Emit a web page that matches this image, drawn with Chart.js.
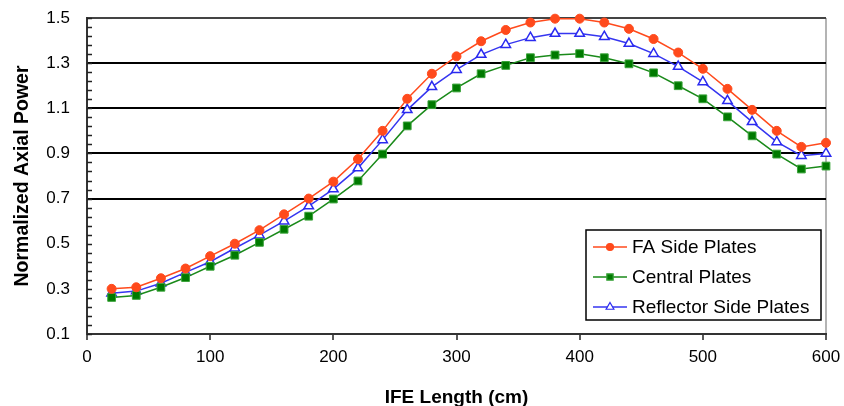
<!DOCTYPE html>
<html lang="en">
<head>
    <meta charset="UTF-8">
    <title>Normalized Axial Power</title>
    <script src="https://cdn.jsdelivr.net/npm/chart.js"></script>
    <style>
        body { margin: 0; background: #fff; }
        #wrap { width: 844px; height: 406px; }
    </style>
</head>
<body>
    <div id="wrap">
        <canvas id="axialChart" width="844" height="406"></canvas>
    </div>

    <script>
        // IFE length positions (cm)
        const ifeLength = [20, 40, 60, 80, 100, 120, 140, 160, 180, 200,
                           220, 240, 260, 280, 300, 320, 340, 360, 380, 400,
                           420, 440, 460, 480, 500, 520, 540, 560, 580, 600];

        const faSidePlates = [0.300, 0.307, 0.347, 0.390, 0.445, 0.500, 0.560, 0.630, 0.700, 0.775,
                              0.875, 1.000, 1.142, 1.253, 1.330, 1.397, 1.447, 1.480, 1.497, 1.497,
                              1.480, 1.452, 1.407, 1.347, 1.275, 1.186, 1.093, 1.000, 0.929, 0.947];

        const centralPlates = [0.262, 0.271, 0.307, 0.350, 0.400, 0.449, 0.506, 0.564, 0.622, 0.698,
                               0.778, 0.897, 1.022, 1.116, 1.190, 1.253, 1.290, 1.324, 1.336, 1.342,
                               1.324, 1.297, 1.257, 1.200, 1.142, 1.062, 0.978, 0.897, 0.831, 0.844];

        const reflectorSidePlates = [0.280, 0.290, 0.325, 0.373, 0.420, 0.480, 0.538, 0.600, 0.667, 0.742,
                                     0.835, 0.960, 1.093, 1.195, 1.271, 1.338, 1.382, 1.413, 1.431, 1.431,
                                     1.417, 1.387, 1.342, 1.285, 1.217, 1.133, 1.040, 0.951, 0.890, 0.900];

        // axis ticks
        const xTicks = [0, 100, 200, 300, 400, 500, 600];
        const yTicks = [0.1, 0.3, 0.5, 0.7, 0.9, 1.1, 1.3, 1.5];
        const yGridLines = [0.7, 0.9, 1.1, 1.3];

        const FONT = 'Liberation Sans, Arial, sans-serif';

        function toPoints(values) {
            return values.map((v, i) => ({ x: ifeLength[i], y: v }));
        }

        // inside minor ticks on the y axis + legend box in the lower right
        const extrasPlugin = {
            id: 'extras',
            afterDraw(chart) {
                const ctx = chart.ctx;
                const y = chart.scales.y;
                const area = chart.chartArea;

                ctx.save();
                ctx.strokeStyle = '#222';
                ctx.lineWidth = 1.5;
                for (let k = 0; k <= 35; k++) {
                    const py = Math.round(y.getPixelForValue(0.1 + k * 0.04)) + 0.5;
                    ctx.beginPath();
                    ctx.moveTo(area.left, py);
                    ctx.lineTo(area.left + 5, py);
                    ctx.stroke();
                }
                ctx.restore();

                // legend
                const boxW = 235, boxH = 90;
                const bx = area.right - 5 - boxW;
                const by = area.bottom - 14 - boxH;
                ctx.save();
                ctx.fillStyle = '#fff';
                ctx.fillRect(bx, by, boxW, boxH);
                ctx.strokeStyle = '#000';
                ctx.lineWidth = 1.5;
                ctx.strokeRect(bx, by, boxW, boxH);

                ctx.font = '19px ' + FONT;
                ctx.textBaseline = 'middle';
                chart.data.datasets.forEach((ds, i) => {
                    const ry = by + 17 + i * 30;
                    ctx.strokeStyle = ds.borderColor;
                    ctx.lineWidth = 1.5;
                    ctx.beginPath();
                    ctx.moveTo(bx + 7, ry);
                    ctx.lineTo(bx + 41, ry);
                    ctx.stroke();
                    ctx.fillStyle = ds.pointBackgroundColor;
                    ctx.strokeStyle = ds.pointBorderColor;
                    ctx.lineWidth = 1.2;
                    Chart.helpers.drawPoint(ctx, {
                        pointStyle: ds.pointStyle,
                        radius: ds.legendRadius,
                        rotation: 0,
                        borderWidth: 1.2
                    }, bx + 24, ry);
                    ctx.fillStyle = '#000';
                    ctx.fillText(ds.label, bx + 46, ry + 1);
                });
                ctx.restore();
            }
        };

        const ctx = document.getElementById('axialChart').getContext('2d');
        new Chart(ctx, {
            type: 'line',
            data: {
                datasets: [{
                    label: 'FA Side Plates',
                    data: toPoints(faSidePlates),
                    borderColor: '#ff4a1c',
                    borderWidth: 1.5,
                    pointStyle: 'circle',
                    pointRadius: 4.5,
                    pointBackgroundColor: '#ff4a1c',
                    pointBorderColor: '#ff4a1c',
                    pointBorderWidth: 1,
                    legendRadius: 3.5,
                    clip: false
                }, {
                    label: 'Central Plates',
                    data: toPoints(centralPlates),
                    borderColor: '#1a8a1a',
                    borderWidth: 1.5,
                    pointStyle: 'rect',
                    pointRadius: 5.5,
                    pointBackgroundColor: '#007a00',
                    pointBorderColor: '#3aa43a',
                    pointBorderWidth: 1,
                    legendRadius: 4.5,
                    clip: false
                }, {
                    label: 'Reflector Side Plates',
                    data: toPoints(reflectorSidePlates),
                    borderColor: '#3535f0',
                    borderWidth: 1.5,
                    pointStyle: 'triangle',
                    pointRadius: 5.5,
                    pointBackgroundColor: '#ffffff',
                    pointBorderColor: '#2a2af0',
                    pointBorderWidth: 1.5,
                    legendRadius: 4.5,
                    clip: false
                }]
            },
            options: {
                responsive: false,
                animation: false,
                devicePixelRatio: 1,
                layout: { autoPadding: false, padding: { top: 18, right: 18, left: 0, bottom: 0 } },
                elements: { line: { tension: 0 } },
                plugins: {
                    legend: { display: false },
                    tooltip: { enabled: false }
                },
                scales: {
                    x: {
                        type: 'linear',
                        min: 0,
                        max: 600,
                        afterBuildTicks: axis => { axis.ticks = xTicks.map(v => ({ value: v })); },
                        afterFit: axis => {
                            axis.height = 72;
                            axis.paddingLeft = 0;
                            axis.paddingRight = 0;
                        },
                        grid: {
                            drawOnChartArea: true,
                            color: c => c.tick && c.tick.value === 600 ? '#b4b4b4' : 'rgba(0,0,0,0)',
                            lineWidth: 2,
                            tickColor: '#222',
                            tickLength: 6,
                            tickWidth: 1.5
                        },
                        border: { display: true, color: '#333', width: 2 },
                        ticks: {
                            color: '#000',
                            padding: 7,
                            maxRotation: 0,
                            font: { family: FONT, size: 17 }
                        },
                        title: {
                            display: true,
                            text: 'IFE Length (cm)',
                            color: '#000',
                            padding: { top: 0, bottom: -3 },
                            font: { family: FONT, size: 19, weight: 'bold' }
                        }
                    },
                    y: {
                        min: 0.1,
                        max: 1.5,
                        afterBuildTicks: axis => { axis.ticks = yTicks.map(v => ({ value: v })); },
                        afterFit: axis => {
                            axis.width = 87;
                            axis.paddingTop = 0;
                            axis.paddingBottom = 0;
                        },
                        grid: {
                            drawTicks: false,
                            color: c => {
                                if (!c.tick) return 'rgba(0,0,0,0)';
                                const v = Math.round(c.tick.value * 10) / 10;
                                if (v === 1.5) return '#444';
                                return yGridLines.includes(v) ? '#000' : 'rgba(0,0,0,0)';
                            },
                            lineWidth: 2
                        },
                        border: { display: true, color: '#333', width: 2 },
                        ticks: {
                            color: '#000',
                            padding: 17,
                            font: { family: FONT, size: 17 },
                            callback: v => v.toFixed(1)
                        },
                        title: {
                            display: true,
                            text: 'Normalized Axial Power',
                            color: '#000',
                            padding: { top: 11, bottom: 0 },
                            font: { family: FONT, size: 19.5, weight: 'bold' }
                        }
                    }
                }
            },
            plugins: [extrasPlugin]
        });
    </script>
</body>
</html>
